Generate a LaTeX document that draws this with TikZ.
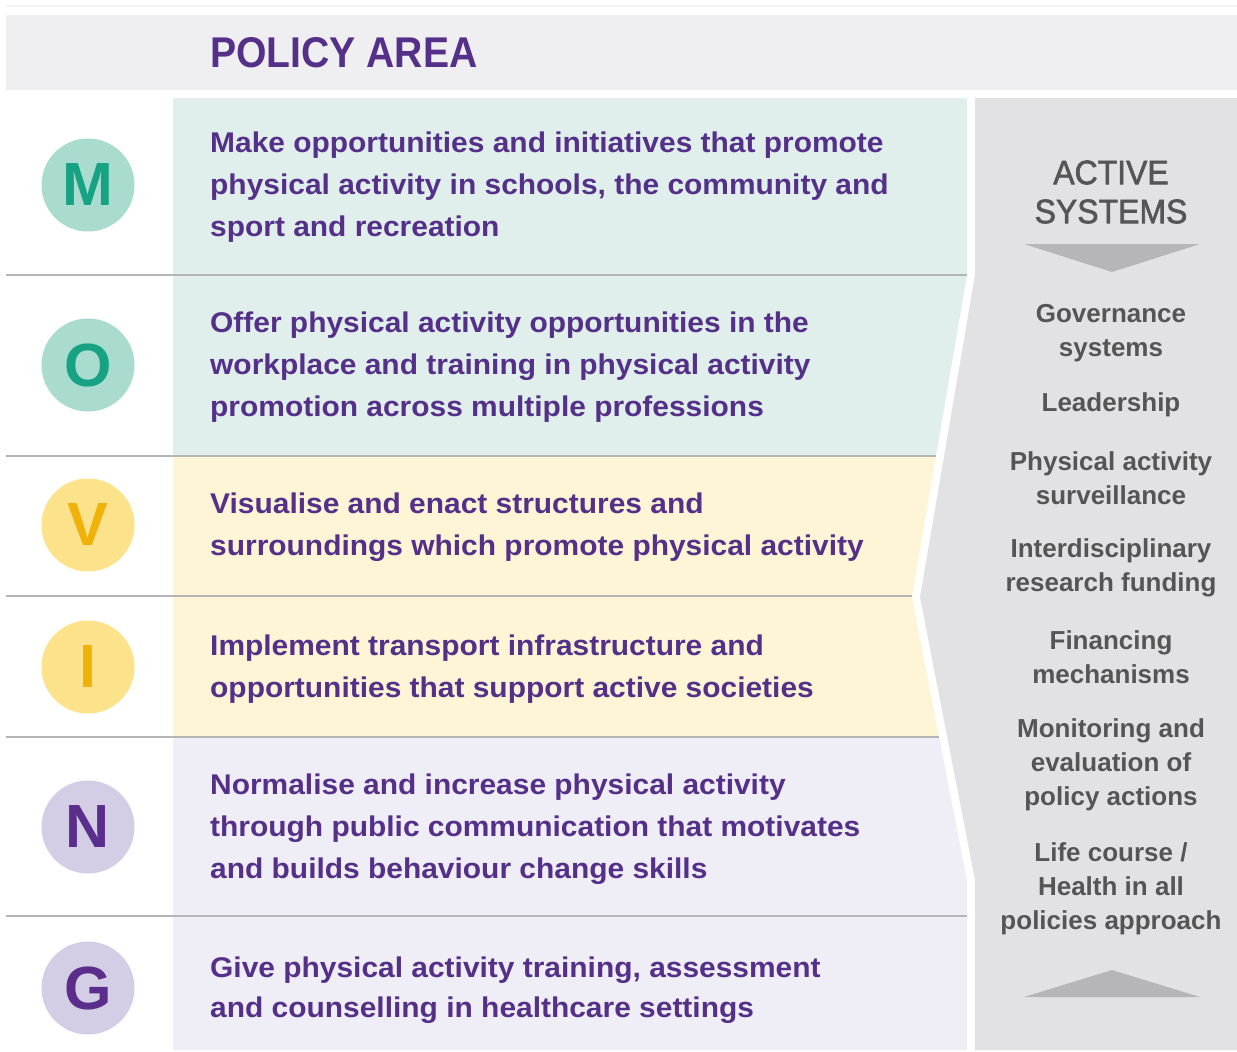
\documentclass[tikz,border=0pt]{standalone}
\usepackage{fontspec}
\setmainfont{Liberation Sans}
\newfontfamily\bodyfont[FakeStretch=1.05]{Liberation Sans}
\newfontfamily\headfont[FakeStretch=0.91]{Liberation Sans}
\newfontfamily\actfont[FakeStretch=0.94,FakeBold=1.8]{Liberation Sans}
\definecolor{purp}{HTML}{553089}
\definecolor{headgray}{HTML}{EFEFF1}
\definecolor{tealband}{HTML}{E0EFEC}
\definecolor{yelband}{HTML}{FDF5D6}
\definecolor{lavband}{HTML}{EFEDF6}
\definecolor{panelgray}{HTML}{E2E2E4}
\definecolor{sepgray}{HTML}{B5B5B5}
\definecolor{paneltext}{HTML}{555555}
\definecolor{arrowgray}{HTML}{B6B6B8}
\definecolor{tealcirc}{HTML}{A9DCCF}
\definecolor{tealletter}{HTML}{17A283}
\definecolor{yelcirc}{HTML}{FDE28C}
\definecolor{yelletter}{HTML}{F0B20A}
\definecolor{lavcirc}{HTML}{D4CDE6}
\definecolor{lavletter}{HTML}{5B2E8C}
\begin{document}
\begin{tikzpicture}[x=1pt,y=-1pt,
  circ/.style={circle,minimum size=93pt,inner sep=0pt,font=\bfseries\fontsize{61}{61}\selectfont},
  bodytext/.style={anchor=west,align=left,inner sep=0pt,text=purp,font=\bodyfont\bfseries\fontsize{28.5}{42}\selectfont},
  paneltxt/.style={align=center,inner sep=0pt,text=paneltext,font=\bfseries\fontsize{26}{34}\selectfont},
  sepline/.style={draw=sepgray,line width=2pt}]
\useasboundingbox (0,0) rectangle (1237,1052);
\fill[white] (0,0) rectangle (1237,1052);
% faint top strip
\draw[draw=headgray!70,line width=1.5pt] (6,6) -- (1237,6);
% header
\fill[headgray] (6,15) rectangle (1237,90);
\node[anchor=west,inner sep=0pt,text=purp,font=\headfont\bfseries\fontsize{43}{43}\selectfont] (title) at (210,53) {POLICY AREA};
% bands
\fill[tealband] (173,98) -- (967,98) -- (967,275) -- (936,456) -- (173,456) -- cycle;
\fill[yelband] (173,456) -- (936,456) -- (912,597) -- (939,737) -- (173,737) -- cycle;
\fill[lavband] (173,737) -- (939,737) -- (967,880) -- (967,1050) -- (173,1050) -- cycle;
% gray panel
\fill[panelgray] (975,98) -- (1237,98) -- (1237,1050) -- (975,1050) -- (975,880) -- (920,597) -- (975,275) -- cycle;
% separators
\coordinate (s1a) at (6,275); \coordinate (s1b) at (967,275);
\coordinate (s2a) at (6,456); \coordinate (s2b) at (936,456);
\coordinate (s3a) at (6,596); \coordinate (s3b) at (912,596);
\coordinate (s4a) at (6,737); \coordinate (s4b) at (939,737);
\coordinate (s5a) at (6,916); \coordinate (s5b) at (967,916);
\draw[sepline] (s1a) -- (s1b);
\draw[sepline] (s2a) -- (s2b);
\draw[sepline] (s3a) -- (s3b);
\draw[sepline] (s4a) -- (s4b);
\draw[sepline] (s5a) -- (s5b);
% circles
\node[circ,fill=tealcirc,text=tealletter] (cM) at (88,185) {M};
\node[circ,fill=tealcirc,text=tealletter] (cO) at (88,365) {O};
\node[circ,fill=yelcirc,text=yelletter] (cV) at (88,525) {V};
\node[circ,fill=yelcirc,text=yelletter] (cI) at (88,667) {I};
\node[circ,fill=lavcirc,text=lavletter] (cN) at (88,827) {N};
\node[circ,fill=lavcirc,text=lavletter] (cG) at (88,988) {G};
% body texts
\node[bodytext] (tM) at (210,187.5) {Make opportunities and initiatives that promote\\physical activity in schools, the community and\\sport and recreation};
\node[bodytext] (tO) at (210,367.5) {Offer physical activity opportunities in the\\workplace and training in physical activity\\promotion across multiple professions};
\node[bodytext] (tV) at (210,527.5) {Visualise and enact structures and\\surroundings which promote physical activity};
\node[bodytext] (tI) at (210,669.5) {Implement transport infrastructure and\\opportunities that support active societies};
\node[bodytext] (tN) at (210,829.5) {Normalise and increase physical activity\\through public communication that motivates\\and builds behaviour change skills};
\node[bodytext,font=\bodyfont\bfseries\fontsize{28.5}{40}\selectfont] (tG) at (210,990.5) {Give physical activity training, assessment\\and counselling in healthcare settings};
% panel
\node[align=center,inner sep=0pt,text=paneltext,font=\actfont\fontsize{34}{39}\selectfont] (act) at (1111,192) {ACTIVE\\SYSTEMS};
\fill[arrowgray] (1024,244) -- (1200,244) -- (1112,272) -- cycle;
\node[paneltxt] (p1) at (1111,333) {Governance\\systems};
\node[paneltxt] (p2) at (1111,405) {Leadership};
\node[paneltxt] (p3) at (1111,478) {Physical activity\\surveillance};
\node[paneltxt] (p4) at (1111,568) {Interdisciplinary\\research funding};
\node[paneltxt] (p5) at (1111,657) {Financing\\mechanisms};
\node[paneltxt] (p6) at (1111,765) {Monitoring and\\evaluation of\\policy actions};
\node[paneltxt] (p7) at (1111,889) {Life course /\\Health in all\\policies approach};
\fill[arrowgray] (1024,997) -- (1200,997) -- (1112,970) -- cycle;
\end{tikzpicture}
\end{document}
